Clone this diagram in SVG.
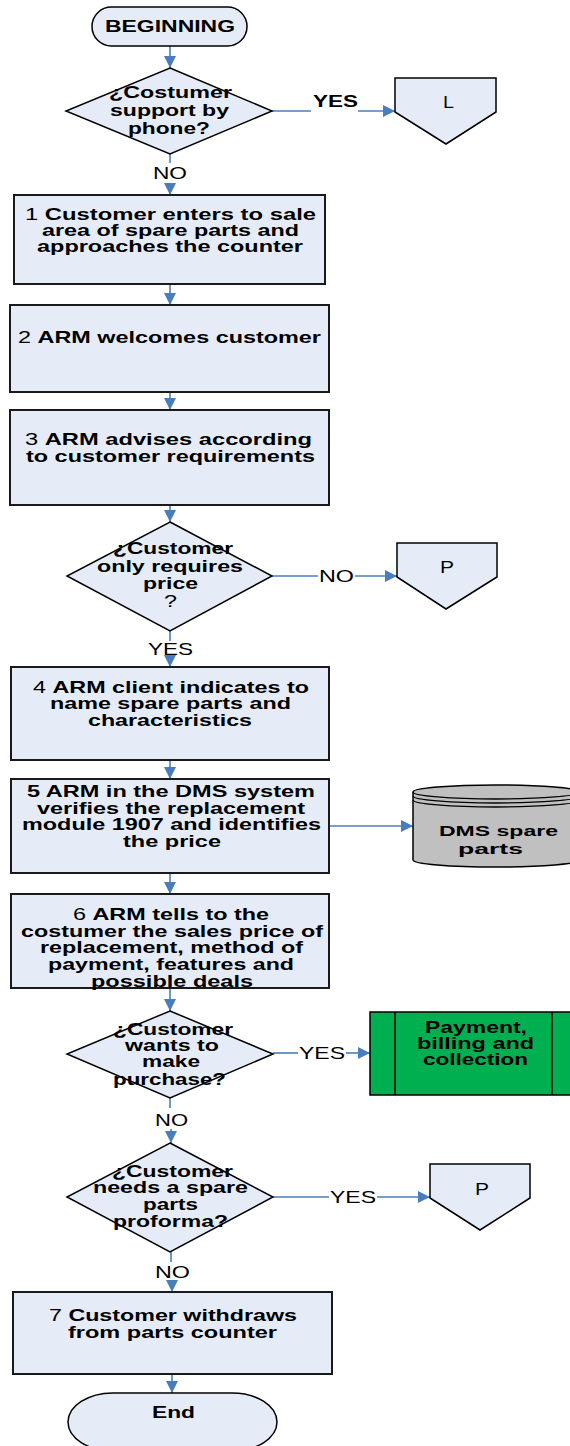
<svg xmlns="http://www.w3.org/2000/svg" width="570" height="1446" viewBox="0 0 570 1446">
<style>
.shape{fill:#E6ECF7;stroke:#000;stroke-width:1.5}
.box{fill:#E6ECF7;stroke:#1a1a1a;stroke-width:2}
.con{stroke:#4A7EBB;stroke-width:1.6;fill:none}
.arr{marker-end:url(#ah)}
text{font-family:"Liberation Sans",Arial,sans-serif;font-size:16.5px;fill:#000}
.b{font-weight:bold}
.n{font-weight:normal}
.s{font-size:15.5px}
</style>
<defs>
<marker id="ah" viewBox="0 0 10 10" refX="10" refY="5" markerWidth="12" markerHeight="12" markerUnits="userSpaceOnUse" orient="auto" preserveAspectRatio="none">
<path d="M0,0 L10,5 L0,10 Z" fill="#4A7EBB"/>
</marker>
</defs>
<g id="connectors">
<line class="con arr" x1="170" y1="46" x2="170" y2="68"/>
<line class="con" x1="170" y1="154" x2="170" y2="163"/>
<line class="con arr" x1="170" y1="183" x2="170" y2="195"/>
<line class="con arr" x1="170" y1="284" x2="170" y2="305"/>
<line class="con arr" x1="170" y1="392" x2="170" y2="410"/>
<line class="con arr" x1="170" y1="505" x2="170" y2="522"/>
<line class="con" x1="170" y1="631" x2="170" y2="641"/>
<line class="con arr" x1="170" y1="658" x2="170" y2="667"/>
<line class="con arr" x1="170" y1="760" x2="170" y2="779"/>
<line class="con arr" x1="170" y1="873" x2="170" y2="894"/>
<line class="con arr" x1="170" y1="988" x2="170" y2="1011"/>
<line class="con" x1="170" y1="1098" x2="170" y2="1108"/>
<line class="con arr" x1="171" y1="1129" x2="171" y2="1143"/>
<line class="con" x1="171" y1="1252" x2="171" y2="1262"/>
<line class="con arr" x1="172" y1="1281" x2="172" y2="1292"/>
<line class="con arr" x1="172" y1="1374" x2="172" y2="1393"/>
<line class="con" x1="272" y1="111" x2="311" y2="111"/>
<line class="con arr" x1="358" y1="111" x2="395" y2="111"/>
<line class="con" x1="272" y1="576" x2="318" y2="576"/>
<line class="con arr" x1="355" y1="576" x2="397" y2="576"/>
<line class="con arr" x1="329" y1="826" x2="413" y2="826"/>
<line class="con" x1="273" y1="1053" x2="298" y2="1053"/>
<line class="con arr" x1="346" y1="1053" x2="370" y2="1053"/>
<line class="con" x1="273" y1="1197" x2="329" y2="1197"/>
<line class="con arr" x1="377" y1="1197" x2="430" y2="1197"/>
<text class="b" x="313" y="107" textLength="45" lengthAdjust="spacingAndGlyphs">YES</text>
<text x="153" y="179" textLength="34" lengthAdjust="spacingAndGlyphs">NO</text>
<text x="319" y="582" textLength="35" lengthAdjust="spacingAndGlyphs">NO</text>
<text x="148" y="655" textLength="45" lengthAdjust="spacingAndGlyphs">YES</text>
<text x="299" y="1059" textLength="46" lengthAdjust="spacingAndGlyphs">YES</text>
<text x="155" y="1126" textLength="33" lengthAdjust="spacingAndGlyphs">NO</text>
<text x="330" y="1203" textLength="46" lengthAdjust="spacingAndGlyphs">YES</text>
<text x="155" y="1278" textLength="35" lengthAdjust="spacingAndGlyphs">NO</text>
</g>
<g id="start">
<rect class="shape" x="92" y="7" width="155" height="39" rx="19.5"/>
<text class="b" x="105" y="32" textLength="130" lengthAdjust="spacingAndGlyphs">BEGINNING</text>
</g>
<g id="d1">
<polygon class="shape" points="170,68 272,111 170,154 66,111"/>
<text class="b" x="109" y="98" textLength="123" lengthAdjust="spacingAndGlyphs">¿Costumer</text>
<text class="b" x="110" y="116" textLength="119" lengthAdjust="spacingAndGlyphs">support by</text>
<text class="b" x="128" y="134" textLength="82" lengthAdjust="spacingAndGlyphs">phone?</text>
</g>
<g id="offL">
<polygon class="shape" points="395,78 496,78 496,112 446,144 395,112"/>
<text x="443" y="108" textLength="11" lengthAdjust="spacingAndGlyphs">L</text>
</g>
<g id="box1">
<rect class="box" x="14" y="195" width="311" height="89"/>
<text class="b" x="25" y="220" textLength="291" lengthAdjust="spacingAndGlyphs"><tspan class="n">1  </tspan>Customer enters to sale</text>
<text class="b" x="42" y="236" textLength="257" lengthAdjust="spacingAndGlyphs">area of spare parts and</text>
<text class="b" x="37" y="252" textLength="266" lengthAdjust="spacingAndGlyphs">approaches the counter</text>
</g>
<g id="box2">
<rect class="box" x="10" y="305" width="319" height="87"/>
<text class="b" x="18" y="343" textLength="303" lengthAdjust="spacingAndGlyphs"><tspan class="n">2 </tspan>ARM welcomes customer</text>
</g>
<g id="box3">
<rect class="box" x="10" y="410" width="319" height="95"/>
<text class="b" x="25" y="445" textLength="287" lengthAdjust="spacingAndGlyphs"><tspan class="n">3 </tspan>ARM advises according</text>
<text class="b" x="26" y="462" textLength="289" lengthAdjust="spacingAndGlyphs">to customer requirements</text>
</g>
<g id="d2">
<polygon class="shape" points="170,522 272,576 170,631 67,576"/>
<text class="b" x="113" y="554" textLength="120" lengthAdjust="spacingAndGlyphs">¿Customer</text>
<text class="b" x="97" y="572" textLength="146" lengthAdjust="spacingAndGlyphs">only requires</text>
<text class="b" x="143" y="589" textLength="55" lengthAdjust="spacingAndGlyphs">price</text>
<text x="164" y="607" textLength="13" lengthAdjust="spacingAndGlyphs">?</text>
</g>
<g id="offP1">
<polygon class="shape" points="397,543 497,543 497,577 446,609 397,577"/>
<text x="440" y="573" textLength="14" lengthAdjust="spacingAndGlyphs">P</text>
</g>
<g id="box4">
<rect class="box" x="11" y="667" width="318" height="93"/>
<text class="b" x="33" y="693" textLength="276" lengthAdjust="spacingAndGlyphs"><tspan class="n">4 </tspan>ARM client indicates to</text>
<text class="b" x="50" y="709" textLength="241" lengthAdjust="spacingAndGlyphs">name spare parts and</text>
<text class="b" x="88" y="726" textLength="164" lengthAdjust="spacingAndGlyphs">characteristics</text>
</g>
<g id="box5">
<rect class="box" x="11" y="779" width="318" height="94"/>
<text class="b" x="27" y="797" textLength="288" lengthAdjust="spacingAndGlyphs">5 ARM in the DMS system</text>
<text class="b" x="37" y="814" textLength="268" lengthAdjust="spacingAndGlyphs">verifies the replacement</text>
<text class="b" x="22" y="830" textLength="299" lengthAdjust="spacingAndGlyphs">module 1907 and identifies</text>
<text class="b" x="123" y="847" textLength="98" lengthAdjust="spacingAndGlyphs">the price</text>
</g>
<g id="dms">
<path d="M413,792 A83,7 0 0,1 579,792 L579,860 A83,7 0 0,1 413,860 Z" fill="#C0C0C0" stroke="#000" stroke-width="1.5"/>
<path d="M413,792 A83,7 0 0,0 579,792 M413,796 A83,7 0 0,0 579,796 M413,800 A83,7 0 0,0 579,800" fill="none" stroke="#000" stroke-width="1.3"/>
<text class="b s" x="439" y="836" textLength="119" lengthAdjust="spacingAndGlyphs">DMS spare</text>
<text class="b s" x="458" y="854" textLength="65" lengthAdjust="spacingAndGlyphs">parts</text>
</g>
<g id="box6">
<rect class="box" x="11" y="894" width="318" height="94"/>
<text class="b" x="73" y="920" textLength="196" lengthAdjust="spacingAndGlyphs"><tspan class="n">6 </tspan>ARM tells to the</text>
<text class="b" x="21" y="937" textLength="302" lengthAdjust="spacingAndGlyphs">costumer the sales price of</text>
<text class="b" x="40" y="953" textLength="263" lengthAdjust="spacingAndGlyphs">replacement, method of</text>
<text class="b" x="48" y="970" textLength="246" lengthAdjust="spacingAndGlyphs">payment, features and</text>
<text class="b" x="91" y="987" textLength="162" lengthAdjust="spacingAndGlyphs">possible deals</text>
</g>
<g id="d3">
<polygon class="shape" points="170,1011 273,1054 170,1098 67,1054"/>
<text class="b" x="113" y="1035" textLength="120" lengthAdjust="spacingAndGlyphs">¿Customer</text>
<text class="b" x="125" y="1051" textLength="94" lengthAdjust="spacingAndGlyphs">wants to</text>
<text class="b" x="142" y="1067" textLength="58" lengthAdjust="spacingAndGlyphs">make</text>
<text class="b" x="113" y="1085" textLength="113" lengthAdjust="spacingAndGlyphs">purchase?</text>
</g>
<g id="payment">
<rect x="370" y="1012" width="210" height="83" fill="#00B050" stroke="#000" stroke-width="1.5"/>
<line x1="395" y1="1012" x2="395" y2="1095" stroke="#000" stroke-width="1.5"/>
<line x1="552" y1="1012" x2="552" y2="1095" stroke="#000" stroke-width="1.5"/>
<text class="b" x="425" y="1033" textLength="102" lengthAdjust="spacingAndGlyphs">Payment,</text>
<text class="b" x="417" y="1049" textLength="117" lengthAdjust="spacingAndGlyphs">billing and</text>
<text class="b" x="423" y="1065" textLength="105" lengthAdjust="spacingAndGlyphs">collection</text>
</g>
<g id="d4">
<polygon class="shape" points="170,1143 273,1197 170,1252 67,1197"/>
<text class="b" x="112" y="1177" textLength="121" lengthAdjust="spacingAndGlyphs">¿Customer</text>
<text class="b" x="93" y="1193" textLength="155" lengthAdjust="spacingAndGlyphs">needs a spare</text>
<text class="b" x="143" y="1210" textLength="55" lengthAdjust="spacingAndGlyphs">parts</text>
<text class="b" x="113" y="1227" textLength="115" lengthAdjust="spacingAndGlyphs">proforma?</text>
</g>
<g id="offP2">
<polygon class="shape" points="430,1164 530,1164 530,1198 480,1230 430,1198"/>
<text x="475" y="1195" textLength="14" lengthAdjust="spacingAndGlyphs">P</text>
</g>
<g id="box7">
<rect class="box" x="13" y="1292" width="319" height="82"/>
<text class="b" x="49" y="1321" textLength="248" lengthAdjust="spacingAndGlyphs"><tspan class="n">7 </tspan>Customer withdraws</text>
<text class="b" x="68" y="1338" textLength="209" lengthAdjust="spacingAndGlyphs">from parts counter</text>
</g>
<g id="end">
<rect class="shape" x="68" y="1393" width="209" height="58" rx="45" ry="29"/>
<text class="b" x="152" y="1418" textLength="43" lengthAdjust="spacingAndGlyphs">End</text>
</g>
</svg>
